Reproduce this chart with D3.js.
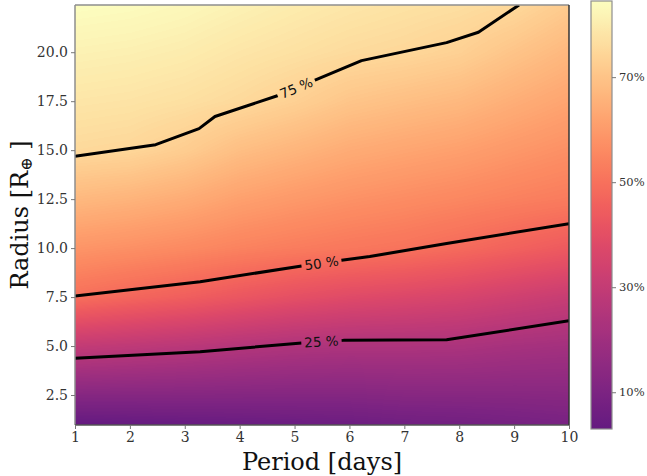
<!DOCTYPE html>
<html><head><meta charset="utf-8">
<script src="https://cdn.jsdelivr.net/npm/d3@7"></script>
<style>body{margin:0;background:#fff}svg{display:block}</style>
</head><body><svg id="c" width="647" height="476"></svg>
<script>
// ---------------- data ----------------
const periods = [1,2,3,4,5,6,7,8,9,10];
const radii = [1,2.5,5,7.5,10,12.5,15,17.5,20,22.4];
// detection[i][j] : radius row i, period column j (percent)
const detection = [
 [3.0,3.5,4.0,4.5,5.0,5.5,6.5,7.0,8.0,9.0],
 [12.8,12.7,12.6,12.4,12.3,12.3,13.0,13.1,13.2,13.5],
 [29.9,28.6,27.3,25.7,24.4,23.7,23.7,23.3,22.0,21.1],
 [49.5,47.2,45.1,42.6,40.2,38.3,37.0,35.6,33.3,31.1],
 [58.6,57.4,55.9,54.1,52.7,51.4,50.3,48.3,46.0,43.7],
 [67.3,66.0,64.1,61.4,59.5,57.8,56.5,55.2,53.7,52.4],
 [75.4,74.7,72.3,68.7,66.4,64.1,62.6,61.2,59.2,57.3],
 [78.5,78.0,77.0,75.4,73.2,70.4,68.8,67.3,64.7,62.2],
 [81.5,81.0,80.1,78.5,77.2,75.8,74.9,73.3,70.1,67.0],
 [84.5,84.0,83.0,81.5,80.0,78.7,77.6,76.7,75.2,71.7]
];
const contour25 = [[1,4.38],[3.28,4.71],[5.13,5.16],[5.89,5.29],[7.77,5.32],[10,6.29]];
const contour50 = [[1,7.56],[3.28,8.28],[5.13,9.09],[5.89,9.39],[6.37,9.57],[7.77,10.23],[10,11.25]];
const contour75 = [[1,14.69],[2.47,15.28],[3.26,16.10],[3.55,16.72],[4.70,17.79],[5.34,18.54],[6.22,19.57],[7.77,20.49],[8.35,21.02],[9.09,22.41]];
const contourLevels = [25,50,75];
const contourLabelPeriods = [5.49,5.49,5.03];
const xTicks = [1,2,3,4,5,6,7,8,9,10];
const yTicks = [2.5,5,7.5,10,12.5,15,17.5,20];
const cbTicks = [10,30,50,70];
const xDomain = [1,10];
const yDomain = [0.97,22.41];
const cbDomain = [3,84.5];

// ---------------- layout ----------------
const L=75, R=569, T=5, B=425;
const CBL=591, CBR=612, CBT=1, CBB=429;
const svg = d3.select('#c');
const x = d3.scaleLinear().domain(xDomain).range([L,R]);
const y = d3.scaleLinear().domain(yDomain).range([B,T]);
const cbY = d3.scaleLinear().domain(cbDomain).range([CBB,CBT]);
const color = d3.scaleSequential(t => d3.interpolateMagma(0.3 + 0.7*t)).domain(cbDomain).clamp(true);

function interp(p, r){
  const pc = Math.max(periods[0], Math.min(periods[periods.length-1], p));
  const rc = Math.max(radii[0], Math.min(radii[radii.length-1], r));
  let j = Math.min(periods.length-2, Math.max(0, d3.bisectRight(periods, pc)-1));
  let i = Math.min(radii.length-2, Math.max(0, d3.bisectRight(radii, rc)-1));
  const tx = (pc-periods[j])/(periods[j+1]-periods[j]);
  const ty = (rc-radii[i])/(radii[i+1]-radii[i]);
  const a = detection[i][j], b = detection[i][j+1], c = detection[i+1][j], d = detection[i+1][j+1];
  return (a*(1-tx)+b*tx)*(1-ty) + (c*(1-tx)+d*tx)*ty;
}

// heatmap image
const W = R-L, H = B-T;
const cv = document.createElement('canvas'); cv.width=W; cv.height=H;
const ctx = cv.getContext('2d');
const img = ctx.createImageData(W,H);
for(let py=0; py<H; py++){
  const rv = y.invert(T+py+0.5);
  for(let px=0; px<W; px++){
    const pv = x.invert(L+px+0.5);
    const c = d3.rgb(color(interp(pv, rv)));
    const k = (py*W+px)*4;
    img.data[k]=c.r; img.data[k+1]=c.g; img.data[k+2]=c.b; img.data[k+3]=255;
  }
}
ctx.putImageData(img,0,0);
svg.append('image').attr('x',L).attr('y',T).attr('width',W).attr('height',H)
  .attr('href', cv.toDataURL());

const defs = svg.append('defs');
defs.append('clipPath').attr('id','plotclip').append('rect')
  .attr('x',L).attr('y',T).attr('width',W).attr('height',H);

// contour labels (compute positions first)
const contours = [contour25, contour50, contour75];
const mask = defs.append('mask').attr('id','lblmask').attr('maskUnits','userSpaceOnUse')
  .attr('x',0).attr('y',0).attr('width',647).attr('height',476);
mask.append('rect').attr('x',0).attr('y',0).attr('width',647).attr('height',476).attr('fill','#fff');

const labelsG = svg.append('g');
const labelInfo = contours.map((pts, idx) => {
  const px = pts.map(d => [x(d[0]), y(d[1])]);
  const lx = x(contourLabelPeriods[idx]);
  let s = 0;
  for(let k=0;k<px.length-1;k++){ if(lx>=px[k][0] && lx<=px[k+1][0]){ s=k; break; } }
  const [x0,y0]=px[s],[x1,y1]=px[s+1];
  const t=(lx-x0)/(x1-x0);
  const ly = y0+(y1-y0)*t;
  const ang = Math.atan2(y1-y0, x1-x0)*180/Math.PI;
  return {lx, ly, ang, text: contourLevels[idx] + ' %'};
});
labelInfo.forEach(d => {
  const t = labelsG.append('text')
    .attr('transform', `translate(${d.lx},${d.ly}) rotate(${d.ang})`)
    .attr('text-anchor','middle').attr('dy','0.36em')
    .attr('font-family','DejaVu Sans').attr('font-size',13.5).attr('fill','#111')
    .text(d.text);
  const w = t.node().getComputedTextLength();
  mask.append('rect')
    .attr('transform', `translate(${d.lx},${d.ly}) rotate(${d.ang})`)
    .attr('x', -w/2-3).attr('y',-8).attr('width', w+6).attr('height',16).attr('fill','#000');
});

const line = d3.line().x(d=>x(d[0])).y(d=>y(d[1]));
const cg = svg.append('g').attr('clip-path','url(#plotclip)').append('g').attr('mask','url(#lblmask)');
contours.forEach(pts => {
  cg.append('path').attr('d', line(pts)).attr('fill','none').attr('stroke','#000')
    .attr('stroke-width',3).attr('stroke-linejoin','round').attr('stroke-linecap','butt');
});
labelsG.raise();

// frame
const spine = '#8e8e8e';
svg.append('line').attr('x1',L).attr('x2',L).attr('y1',T).attr('y2',B).attr('stroke',spine).attr('stroke-width',1.5);
svg.append('line').attr('x1',L).attr('x2',R).attr('y1',T).attr('y2',T).attr('stroke',spine).attr('stroke-width',1.5);
svg.append('line').attr('x1',L).attr('x2',R).attr('y1',B).attr('y2',B).attr('stroke','#555').attr('stroke-width',1.5);
svg.append('line').attr('x1',R).attr('x2',R).attr('y1',T).attr('y2',B).attr('stroke','#333').attr('stroke-width',1.5);

// axes
const fontSerif = 'DejaVu Serif';
const xAxis = svg.append('g').attr('transform',`translate(0,${B})`)
  .call(d3.axisBottom(x).tickValues(xTicks).tickFormat(d3.format('d')).tickSize(4).tickPadding(3));
const yAxis = svg.append('g').attr('transform',`translate(${L},0)`)
  .call(d3.axisLeft(y).tickValues(yTicks).tickFormat(d3.format('.1f')).tickSize(4).tickPadding(3));
[xAxis,yAxis].forEach(a => {
  a.select('.domain').remove();
  a.selectAll('.tick line').attr('stroke','#777').attr('stroke-width',1);
  a.selectAll('.tick text').attr('font-family',fontSerif).attr('font-size',14).attr('fill','#333');
});

svg.append('text').attr('x',(L+R)/2).attr('y',470).attr('text-anchor','middle')
  .attr('font-family',fontSerif).attr('font-size',24).attr('fill','#111').text('Period [days]');
const yl = svg.append('text').attr('transform',`translate(28,${(T+B)/2}) rotate(-90)`)
  .attr('text-anchor','middle').attr('font-family',fontSerif).attr('font-size',24).attr('fill','#111');
yl.append('tspan').text('Radius [R');
yl.append('tspan').attr('font-size',16).attr('dy',4).text('⊕');
yl.append('tspan').attr('dy',-4).text(' ]');

// colorbar
const grad = defs.append('linearGradient').attr('id','cbgrad').attr('x1',0).attr('y1',1).attr('x2',0).attr('y2',0);
d3.range(0,41).forEach(k => {
  const v = cbDomain[0] + (cbDomain[1]-cbDomain[0])*k/40;
  grad.append('stop').attr('offset', (k/40)).attr('stop-color', color(v));
});
svg.append('rect').attr('x',CBL).attr('y',CBT).attr('width',CBR-CBL).attr('height',CBB-CBT).attr('fill','url(#cbgrad)');
svg.append('rect').attr('x',CBL).attr('y',CBT).attr('width',CBR-CBL).attr('height',CBB-CBT)
  .attr('fill','none').attr('stroke','#8e8e8e').attr('stroke-width',1.2);
const cbAxis = svg.append('g').attr('transform',`translate(${CBR},0)`)
  .call(d3.axisRight(cbY).tickValues(cbTicks).tickFormat(d => d + '%').tickSize(4).tickPadding(3));
cbAxis.select('.domain').remove();
cbAxis.selectAll('.tick line').attr('stroke','#777');
cbAxis.selectAll('.tick text').attr('font-family',fontSerif).attr('font-size',11.5).attr('fill','#333');
</script></body></html>
